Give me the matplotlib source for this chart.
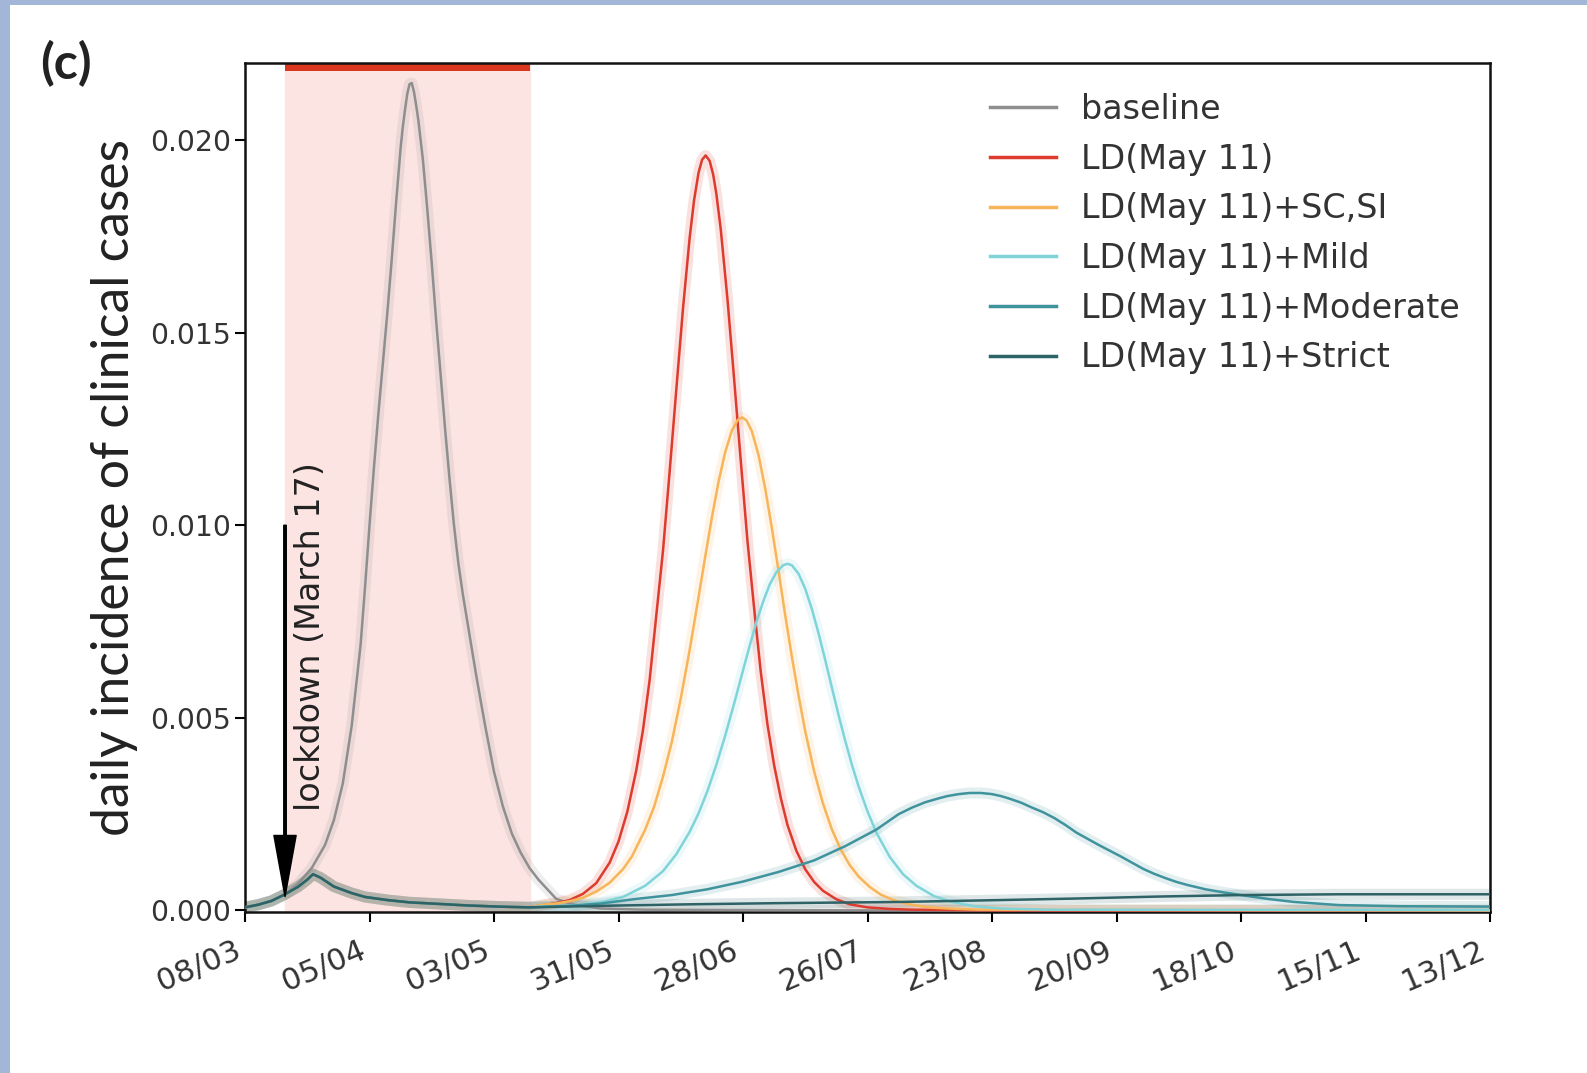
import matplotlib
matplotlib.use("Agg")
import matplotlib.pyplot as plt
from matplotlib.patches import Rectangle

# x axis is "days since 08/03" ; ticks every 4 weeks
tick_labels = ["08/03", "05/04", "03/05", "31/05", "28/06", "26/07",
               "23/08", "20/09", "18/10", "15/11", "13/12"]
lockdown_start = 9    # March 17
lockdown_end = 64     # May 11

# baseline (no lockdown)
days_base = [0, 3, 6, 9, 12, 15, 18, 20, 22, 24, 26, 27, 28, 29, 30, 31, 32, 33, 34, 35,
             35.5, 36, 36.5, 37, 37.5, 38, 38.5, 39, 40, 41, 42, 43, 44, 45, 46, 47, 48, 49, 50, 52,
             54, 56, 58, 60, 62, 64, 66, 68, 70, 74, 80, 90, 110, 150, 200, 280]
inc_base = [0.00008, 0.00015, 0.00025, 0.00042, 0.00070, 0.00110, 0.00170, 0.00235, 0.00330, 0.00480,
            0.00690, 0.00840, 0.01000, 0.01150, 0.01290, 0.01420, 0.01550, 0.01690, 0.01840, 0.01980,
            0.02035, 0.02080, 0.02120, 0.02145, 0.02148, 0.02125, 0.02090, 0.02050, 0.01950, 0.01820,
            0.01680, 0.01530, 0.01390, 0.01250, 0.01120, 0.01000, 0.00900, 0.00820, 0.00750, 0.00610,
            0.00480, 0.00360, 0.00270, 0.00200, 0.00150, 0.00110, 0.00080, 0.00055, 0.00030, 0.00015,
            0.00005, 0.00002, 0.00001, 0.0, 0.0, 0.0]

# shared trajectory of all lockdown scenarios up to May 11
days_early = [0, 3, 6, 9, 12, 14, 15.3, 17, 20, 24, 27, 32, 37, 42, 50, 57, 64]
inc_early = [0.00008, 0.00015, 0.00025, 0.00042, 0.00062, 0.00080, 0.00094, 0.00085, 0.00062,
             0.00045, 0.00035, 0.00027, 0.00021, 0.00018, 0.00013, 0.00010, 0.00008]

# after May 11
days_ld = [67, 70, 73, 76, 79, 82, 84, 86, 88, 89.5, 91, 92.5, 94, 95.5, 97, 98.5, 100, 101, 102,
           102.8, 103.6, 104.5, 105.3, 106, 107, 108.5, 110, 111.5, 113, 114.5, 116, 117.5, 119,
           120.5, 122, 124, 126, 128, 130, 133, 136, 140, 145, 150, 170, 280]
inc_ld = [0.00014, 0.00019, 0.00027, 0.00043, 0.00071, 0.00124, 0.00179, 0.00257, 0.00364, 0.00468,
          0.00598, 0.00766, 0.00933, 0.01139, 0.01352, 0.01562, 0.01746, 0.01844, 0.01915,
          0.01949, 0.01960, 0.01946, 0.01910, 0.01861, 0.01768, 0.01588, 0.01380, 0.01167, 0.00960,
          0.00785, 0.00619, 0.00483, 0.00377, 0.00292, 0.00222, 0.00155, 0.00107, 0.00074, 0.00051,
          0.00029, 0.00016, 0.00008, 0.00004, 0.00002, 0.0, 0.0]

days_scsi = [67, 70, 73, 76, 79, 82, 85, 87, 90, 92, 94, 96, 98, 100, 102, 103.5, 105, 106.5, 108,
             109.5, 110.8, 111.8, 112.8, 114, 115.5, 117, 118.5, 120, 121.5, 123, 124.5, 126, 128,
             130, 132, 134, 136, 138, 140.5, 143, 146, 149, 152, 155, 160, 165, 280]
inc_scsi = [0.00015, 0.00018, 0.00024, 0.00033, 0.00049, 0.00072, 0.00107, 0.00140, 0.00210, 0.00269,
            0.00347, 0.00438, 0.00550, 0.00676, 0.00813, 0.00918, 0.01020, 0.01113, 0.01190,
            0.01246, 0.01273, 0.01280, 0.01272, 0.01244, 0.01182, 0.01095, 0.00992, 0.00881, 0.00766,
            0.00658, 0.00558, 0.00465, 0.00361, 0.00277, 0.00210, 0.00158, 0.00118, 0.00088, 0.00061,
            0.00041, 0.00026, 0.00017, 0.00011, 0.00007, 0.00004, 0.00002, 0.0]

days_mild = [67, 70, 75, 80, 85, 90, 94, 97, 100, 102, 104, 106, 108, 110, 112, 113.5, 115, 116.5,
             118, 119.5, 121, 122, 123, 124.5, 126, 127.5, 129, 130.5, 132, 133.5, 135, 136.5, 138,
             140, 142, 145, 148, 151, 155, 159, 164, 170, 180, 280]
inc_mild = [0.00011, 0.00011, 0.00014, 0.00021, 0.00035, 0.00064, 0.00102, 0.00146, 0.00204, 0.00252,
            0.00310, 0.00378, 0.00454, 0.00537, 0.00623, 0.00687, 0.00748, 0.00801, 0.00846,
            0.00878, 0.00896, 0.00900, 0.00896, 0.00874, 0.00835, 0.00782, 0.00719, 0.00650, 0.00578,
            0.00507, 0.00440, 0.00378, 0.00322, 0.00257, 0.00202, 0.00139, 0.00094, 0.00064, 0.00037,
            0.00022, 0.00011, 0.00005, 0.00002, 0.00001]

days_mod = [73, 80, 88, 96, 104, 112, 120, 128, 135, 142, 147, 150, 153, 156, 158, 160.5, 163, 165.5,
            168, 170, 172, 174.5, 177, 179.5, 182, 184.5, 187, 189.5, 192, 194.5, 197, 199.5, 202,
            204.5, 207, 209.5, 212, 216, 220, 224, 230, 236, 246, 260, 280]
inc_mod = [0.00012, 0.00018, 0.00030, 0.00040, 0.00055, 0.00075, 0.00100, 0.00130, 0.00167, 0.00210,
           0.00250, 0.00267, 0.00281, 0.00291, 0.00297, 0.00302, 0.00305, 0.00305, 0.00302, 0.00297,
           0.00290, 0.00280, 0.00267, 0.00255, 0.00240, 0.00222, 0.00202, 0.00186, 0.00170, 0.00155,
           0.00140, 0.00124, 0.00108, 0.00095, 0.00084, 0.00074, 0.00066, 0.00055, 0.00047, 0.00040,
           0.00030, 0.00022, 0.00014, 0.00011, 0.00010]

days_strict = [80, 100, 120, 147, 170, 187, 205, 224, 246, 280]
inc_strict = [0.00012, 0.00016, 0.00019, 0.00022, 0.00027, 0.00031, 0.00036, 0.00040, 0.00042, 0.00042]

labels = ["baseline", "LD(May 11)", "LD(May 11)+SC,SI", "LD(May 11)+Mild",
          "LD(May 11)+Moderate", "LD(May 11)+Strict"]
colors = ["#8e8e8e", "#dc3b2e", "#f7b55a", "#80d4d8", "#3f939c", "#2d6266"]

series = [(days_base, inc_base)]
for d, v in [(days_ld, inc_ld), (days_scsi, inc_scsi), (days_mild, inc_mild),
             (days_mod, inc_mod), (days_strict, inc_strict)]:
    series.append((days_early + d, inc_early + v))

fig = plt.figure(figsize=(15.87, 10.73), dpi=100, facecolor="#a3b6d8")
fig.add_artist(Rectangle((10 / 1587, 0), 1, 1 - 5 / 1073, transform=fig.transFigure,
                         facecolor="white", edgecolor="none", zorder=-10))
ax = fig.add_axes([245 / 1587, 1 - 912 / 1073, 1245 / 1587, 849 / 1073])

ymax = 0.022
ax.axvspan(lockdown_start, lockdown_end, color="#fce4e2", zorder=0)
ax.fill_between([lockdown_start, lockdown_end], ymax - 0.00022, ymax, color="#d9381e",
                linewidth=0, zorder=1)

for (d, v), c, lab in zip(series, colors, labels):
    ax.plot(d, v, color=c, lw=8, alpha=0.15, solid_capstyle="butt", zorder=2)
    ax.plot(d, v, color=c, lw=1.8, label=lab, zorder=3)

ax.annotate("", xy=(lockdown_start, 0.00036), xytext=(lockdown_start, 0.0100),
            arrowprops=dict(facecolor="black", edgecolor="black", width=1.8,
                            headwidth=16, headlength=44, shrink=0), zorder=5)
ax.text(14.8, 0.00257, "lockdown (March 17)", rotation=90, ha="center", va="bottom",
        fontsize=24, color="#222222")

ax.set_xlim(0, 280)
ax.set_ylim(-0.00004, ymax)
ax.set_xticks([28 * i for i in range(len(tick_labels))])
ax.set_xticklabels(tick_labels, rotation=23, ha="right", fontsize=22, color="#333333")
ax.set_yticks([0, 0.005, 0.010, 0.015, 0.020])
ax.set_yticklabels(["0.000", "0.005", "0.010", "0.015", "0.020"], fontsize=20.3, color="#333333")
ax.tick_params(axis="both", length=7, width=1.5, direction="out")
ax.tick_params(axis="x", pad=10)
ax.tick_params(axis="y", pad=3)
for s in ax.spines.values():
    s.set_linewidth(1.8)
    s.set_color("#111111")

ax.set_ylabel("daily incidence of clinical cases", fontsize=37.3, family="Lato", color="#222222")
ax.yaxis.set_label_coords(-0.0863, 0.5)

leg = ax.legend(loc="upper right", frameon=False, fontsize=24, labelspacing=0.5,
                handlelength=2.0, handletextpad=0.75, borderaxespad=0.5)
for line in leg.get_lines():
    line.set_linewidth(2.5)
for t in leg.get_texts():
    t.set_color("#333333")

fig.text(40.5 / 1587, 1 - 40 / 1073, "(c)", ha="left", va="top", fontsize=36,
         fontweight="bold", family="Lato", color="#222222")

fig.savefig("out.png", dpi=100, facecolor=fig.get_facecolor())
